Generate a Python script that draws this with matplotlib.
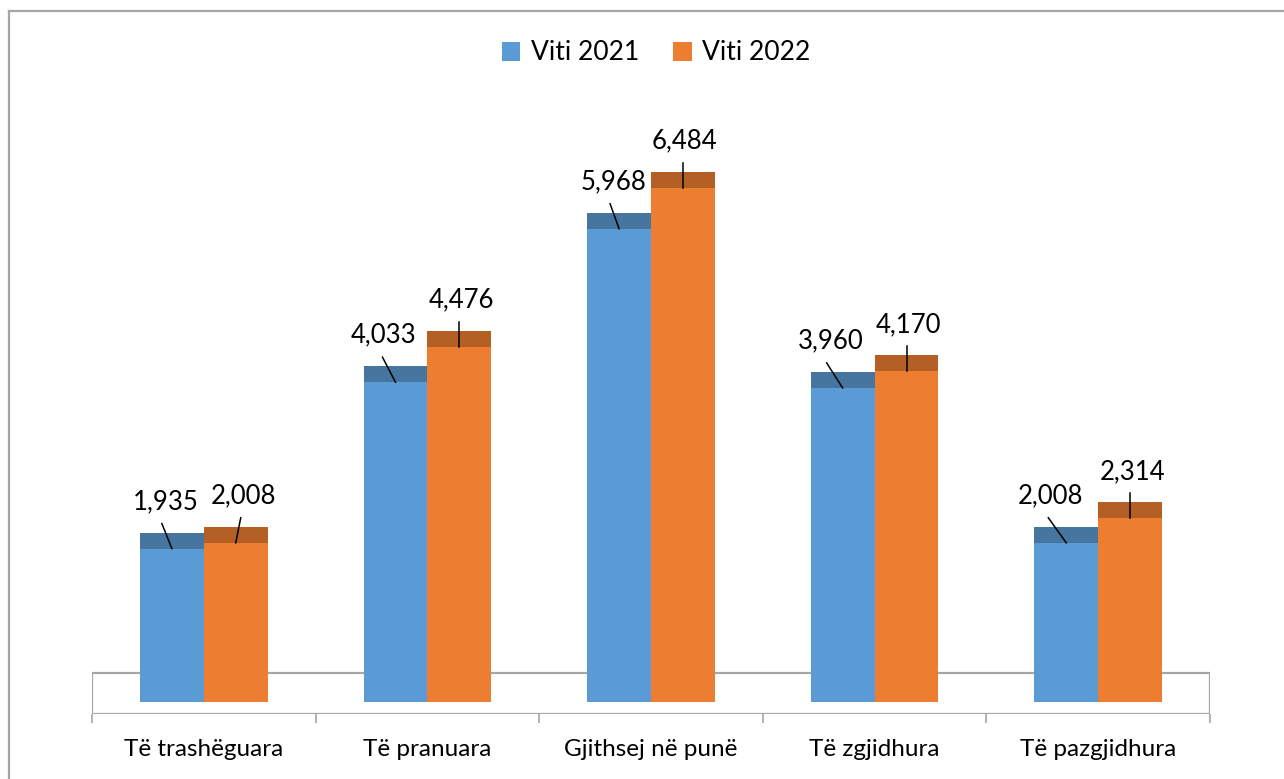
import matplotlib
matplotlib.use('Agg')
import matplotlib.pyplot as plt
import numpy as np
from matplotlib.patches import Rectangle, Patch
from matplotlib.lines import Line2D

plt.rcParams['font.family'] = ['Lato', 'DejaVu Sans']

categories = ['Të trashëguara', 'Të pranuara', 'Gjithsej në punë', 'Të zgjidhura', 'Të pazgjidhura']
viti_2021 = [1935, 4033, 5968, 3960, 2008]
viti_2022 = [2008, 4476, 6484, 4170, 2314]
series_names = ['Viti 2021', 'Viti 2022']

BLUE, BLUE_TOP = '#5B9BD5', '#46769F'
ORANGE, ORANGE_TOP = '#ED7D31', '#B45F24'
GRID_GRAY = '#A6A6A6'

W, H = 1284, 779
K = 0.0793          # pixels per unit on the value axis
BASE = 702          # pixel row of value 0
CAP = 16 / K        # depth of the 3d top face


def yv(px):
    # pixel row -> value axis units
    return (BASE - px) / K


fig = plt.figure(figsize=(W / 100, H / 100), dpi=100)
ax_left, ax_right, ax_bot, ax_top = 92, 1210, 714, 90
ax = fig.add_axes([ax_left / W, (H - ax_bot) / H,
                   (ax_right - ax_left) / W, (ax_bot - ax_top) / H])
ax.set_xlim(-0.5, len(categories) - 0.5)
ax.set_ylim(yv(ax_bot), yv(ax_top))
for s in ax.spines.values():
    s.set_visible(False)
ax.set_yticks([])

# floor of the 3d chart
ax.add_patch(Rectangle((-0.5, yv(714)), len(categories), yv(673) - yv(714),
                       facecolor='white', edgecolor=GRID_GRAY, lw=1.6, zorder=1))

ax.set_xticks(np.arange(-0.5, len(categories), 1.0))
ax.set_xticklabels([])
ax.tick_params(axis='x', length=6.5, width=1.2, color=GRID_GRAY, direction='out')

x = np.arange(len(categories))
bw = 64 / 224
ax.bar(x - bw / 2, viti_2021, width=bw, color=BLUE, zorder=2)
ax.bar(x + bw / 2, viti_2022, width=bw, color=ORANGE, zorder=2)
ax.bar(x - bw / 2, CAP, bottom=viti_2021, width=bw, color=BLUE_TOP, zorder=2)
ax.bar(x + bw / 2, CAP, bottom=viti_2022, width=bw, color=ORANGE_TOP, zorder=2)

# value labels with leader lines (horizontal shifts in pixels)
label_shift_21 = [-6, -12, -6, -12, -16]
line_shift_21 = [-10, -13, -9, -16, -18]
label_shift_22 = [8, 2, 1, 2, 2]
line_shift_22 = [5, 0, 0, 0, 0]
for vals, xs, lsh, tsh in [(viti_2021, x - bw / 2, label_shift_21, line_shift_21),
                           (viti_2022, x + bw / 2, label_shift_22, line_shift_22)]:
    for v, xc, ls, ts in zip(vals, xs, lsh, tsh):
        ax.plot([xc, xc + ts / 224], [v, v + CAP + 9 / K], color='black', lw=1.1, zorder=3)
        ax.text(xc + ls / 224, v + CAP + 31 / K, f'{v:,}', ha='center', va='center',
                fontsize=18.5, color='black', zorder=4)

for i, c in enumerate(categories):
    ax.text(i, yv(749), c, ha='center', va='center', fontsize=17.5, color='black')

# legend
handles = [Patch(facecolor=BLUE), Patch(facecolor=ORANGE)]
fig.legend(handles, series_names, loc='center', bbox_to_anchor=(656 / W, 1 - 53 / H),
           ncol=2, frameon=False, fontsize=19, handlelength=0.7, handleheight=0.7,
           handletextpad=0.4, columnspacing=1.3)

# chart area border (left and top edges)
fig.add_artist(Line2D([9 / W, 9 / W], [0, 1 - 11 / H], transform=fig.transFigure,
                      color=GRID_GRAY, lw=1.6))
fig.add_artist(Line2D([9 / W, 1], [1 - 11 / H, 1 - 11 / H], transform=fig.transFigure,
                      color=GRID_GRAY, lw=1.6))

fig.savefig('out.png', dpi=100, facecolor='white')
